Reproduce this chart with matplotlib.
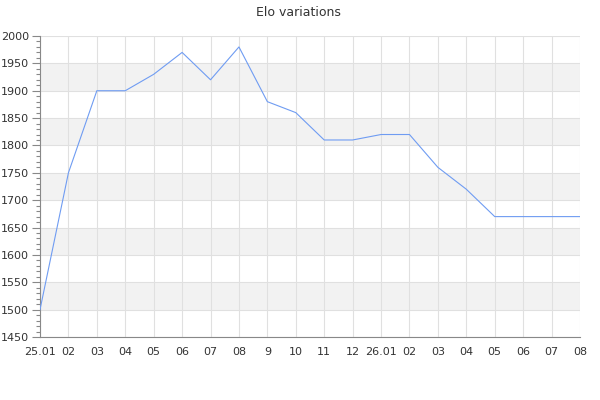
import matplotlib
matplotlib.use("Agg")
import matplotlib.pyplot as plt
from matplotlib.ticker import MultipleLocator

labels = ["25.01", "02", "03", "04", "05", "06", "07", "08", "9", "10",
          "11", "12", "26.01", "02", "03", "04", "05", "06", "07", "08"]
elo = [1500, 1750, 1900, 1900, 1930, 1970, 1920, 1980, 1880, 1860,
       1810, 1810, 1820, 1820, 1760, 1720, 1670, 1670, 1670, 1670]
bands = [1500, 1600, 1700, 1800, 1900]

fig = plt.figure(figsize=(6, 4), dpi=100)
ax = fig.add_axes([40/600, 1-337/400, 540/600, 301/400])

x = list(range(len(labels)))
for b in bands:
    ax.axhspan(b, b + 50, color="#f2f2f2", zorder=0, lw=0)
ax.plot(x, elo, color="#6f9cf2", lw=0.8, zorder=3)

ax.set_xlim(0, len(labels) - 1)
ax.set_ylim(1450, 2000)
ax.set_xticks(x)
ax.set_xticklabels(labels)
ax.yaxis.set_major_locator(MultipleLocator(50))
ax.yaxis.set_minor_locator(MultipleLocator(10))
ax.grid(True, which="major", color="#e0e0e0", lw=0.8, zorder=1)
ax.set_axisbelow(True)

for s in ["top", "right"]:
    ax.spines[s].set_visible(False)
for s in ["left", "bottom"]:
    ax.spines[s].set_color("#888888")
    ax.spines[s].set_linewidth(0.8)

ax.tick_params(axis="x", length=0, pad=7, labelsize=8, labelcolor="#333333")
ax.tick_params(axis="y", which="major", length=6, width=0.8, color="#888888",
               labelsize=8, labelcolor="#333333", pad=2)
ax.tick_params(axis="y", which="minor", length=3, width=0.8, color="#888888")

fig.text(298/600, 1-12/400, "Elo variations", ha="center", va="center",
         fontsize=9, color="#333333")

fig.savefig("out.png", dpi=100)
